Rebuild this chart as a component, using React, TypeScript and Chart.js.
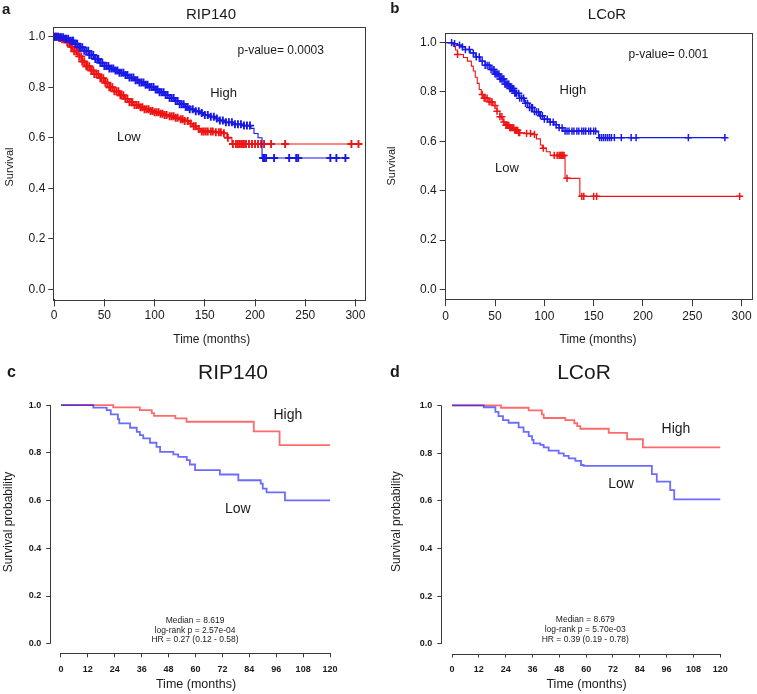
import React, { useEffect, useRef } from "react";
import { Chart, registerables } from "chart.js";

Chart.register(...registerables);

type Pt = [number, number];

// ---------- shared tick values ----------
const AB_X_TICKS = [0, 50, 100, 150, 200, 250, 300];
const SURV_TICKS = [0, 0.2, 0.4, 0.6, 0.8, 1.0];
const CD_X_TICKS = [0, 12, 24, 36, 48, 60, 72, 84, 96, 108, 120];

// ---------- panel a: RIP140 ----------
const A_HIGH_STEPS: Pt[] = [
  [0, 1.0], [5, 0.998], [10, 0.992], [15, 0.984], [20, 0.972], [25, 0.958], [30, 0.944], [35, 0.928],
  [40, 0.912], [45, 0.897], [50, 0.884], [55, 0.874], [60, 0.866], [65, 0.857], [70, 0.848], [75, 0.838],
  [80, 0.828], [85, 0.819], [90, 0.81], [95, 0.801], [100, 0.791], [105, 0.78], [110, 0.769], [115, 0.757],
  [120, 0.745], [125, 0.733], [130, 0.722], [135, 0.713], [140, 0.705], [145, 0.698], [150, 0.69], [155, 0.683],
  [160, 0.676], [165, 0.668], [170, 0.661], [178, 0.653], [188, 0.648], [196, 0.637], [199, 0.617], [203, 0.6],
  [207, 0.52], [291, 0.52],
];
const A_HIGH_CENSOR = [
  0.5, 2, 4, 6, 7, 9, 11, 12, 14, 16, 18, 19, 21, 23, 25, 26, 28, 30, 32, 34, 35, 37, 39, 41, 43, 44, 46, 48,
  50, 52, 54, 55, 57, 59, 61, 63, 65, 67, 69, 71, 73, 75, 77, 79, 81, 83, 85, 87, 89, 91, 93, 95, 97, 99, 101,
  103, 105, 107, 109, 111, 113, 115, 117, 119, 121, 123, 125, 127, 129, 131, 133, 135, 138, 141, 144, 147, 150,
  153, 156, 159, 162, 165, 168, 171, 174, 177, 180, 183, 186, 189, 192, 195, 208, 209, 211, 219, 234, 241, 243,
  275, 281, 290,
];
const A_LOW_STEPS: Pt[] = [
  [0, 1.0], [4, 0.995], [8, 0.99], [12, 0.978], [16, 0.96], [20, 0.942], [24, 0.922], [28, 0.902], [32, 0.883],
  [36, 0.866], [40, 0.852], [45, 0.836], [50, 0.818], [55, 0.8], [60, 0.784], [65, 0.768], [70, 0.754], [75, 0.741],
  [80, 0.73], [85, 0.721], [90, 0.713], [95, 0.706], [100, 0.701], [105, 0.695], [110, 0.69], [115, 0.685],
  [120, 0.679], [125, 0.673], [130, 0.666], [134, 0.656], [138, 0.645], [142, 0.635], [146, 0.625], [160, 0.622],
  [168, 0.618], [172, 0.6], [177, 0.575], [305, 0.575],
];
const A_LOW_CENSOR = [
  1, 3, 5, 6, 8, 10, 11, 13, 15, 17, 18, 20, 22, 23, 25, 27, 28, 30, 32, 33, 35, 37, 39, 40, 42, 44, 46, 47, 49,
  51, 53, 55, 56, 58, 60, 62, 64, 66, 67, 69, 71, 73, 75, 77, 78, 80, 82, 84, 86, 88, 90, 92, 94, 96, 98, 100,
  102, 104, 106, 108, 110, 112, 115, 117, 119, 121, 123, 126, 128, 130, 133, 136, 139, 141, 144, 147, 149, 151,
  153, 156, 158, 161, 164, 166, 169, 173, 178, 181, 183, 185, 187, 189, 191, 194, 197, 200, 203, 206, 209, 216,
  230, 296, 303,
];

// ---------- panel b: LCoR ----------
const B_HIGH_STEPS: Pt[] = [
  [0, 1.0], [8, 0.996], [12, 0.99], [16, 0.983], [20, 0.972], [25, 0.958], [30, 0.942], [35, 0.925], [40, 0.908],
  [45, 0.891], [50, 0.873], [55, 0.853], [60, 0.832], [65, 0.814], [70, 0.795], [75, 0.775], [80, 0.754],
  [85, 0.737], [90, 0.72], [95, 0.704], [100, 0.69], [105, 0.678], [110, 0.667], [115, 0.655], [119, 0.641],
  [153, 0.638], [155, 0.615], [283, 0.615],
];
const B_HIGH_CENSOR = [
  6, 9, 14, 17, 20, 24, 28, 31, 34, 37, 40, 42, 44, 46, 48, 49, 50, 51, 52, 53, 54, 55, 56, 57, 58, 59, 60, 61,
  62, 63, 64, 65, 66, 67, 68, 69, 70, 71, 72, 74, 75, 77, 79, 81, 83, 85, 87, 88, 90, 92, 94, 96, 98, 100, 103,
  106, 109, 112, 115, 118, 121, 123, 125, 128, 130, 133, 135, 138, 140, 142, 145, 147, 150, 152, 156, 158, 160,
  162, 164, 166, 168, 171, 178, 188, 193, 246, 283,
];
const B_LOW_STEPS: Pt[] = [
  [0, 1.0], [8, 0.985], [10, 0.97], [12, 0.952], [18, 0.94], [22, 0.925], [26, 0.905], [28, 0.885], [30, 0.86],
  [32, 0.835], [34, 0.81], [36, 0.79], [38, 0.775], [44, 0.76], [48, 0.745], [52, 0.722], [55, 0.7], [58, 0.678],
  [60, 0.665], [65, 0.655], [70, 0.645], [74, 0.635], [80, 0.632], [88, 0.628], [92, 0.61], [96, 0.585],
  [98, 0.572], [102, 0.558], [106, 0.543], [121, 0.45], [136, 0.377], [300, 0.377],
];
const B_LOW_CENSOR = [
  12, 37, 39, 40, 42, 44, 46, 47, 50, 52, 55, 57, 59, 61, 62, 63, 64, 65, 66, 67, 68, 69, 70, 71, 72, 73, 74, 75,
  82, 86, 90, 99, 110, 113, 115, 116, 117, 118, 119, 120, 123, 138, 140, 150, 153, 298,
];

// ---------- panel c: RIP140 ----------
const C_HIGH_STEPS: Pt[] = [
  [0, 1.0], [23.3, 0.99], [35.2, 0.979], [40.5, 0.966], [41.5, 0.955], [51, 0.944], [56, 0.93], [86, 0.89],
  [97.5, 0.832], [120, 0.832],
];
const C_LOW_STEPS: Pt[] = [
  [0, 1.0], [14.4, 0.989], [20.4, 0.979], [22.2, 0.961], [25.4, 0.941], [26, 0.923], [30.8, 0.905], [33.8, 0.888],
  [35.2, 0.874], [36.7, 0.86], [39.7, 0.842], [42.6, 0.825], [44.2, 0.804], [50.1, 0.793], [52.3, 0.783],
  [56.1, 0.769], [57.5, 0.751], [59.8, 0.727], [70.9, 0.709], [79.1, 0.685], [89.1, 0.671], [90, 0.65],
  [91.7, 0.634], [99.9, 0.601], [120, 0.601],
];
const C_STATS = ["Median = 8.619", "log-rank p = 2.57e-04", "HR = 0.27 (0.12 - 0.58)"];

// ---------- panel d: LCoR ----------
const D_HIGH_STEPS: Pt[] = [
  [0, 1.0], [21.9, 0.99], [34.3, 0.979], [40.2, 0.962], [41, 0.947], [50.7, 0.938], [54.7, 0.925], [56, 0.913],
  [57.4, 0.902], [70.1, 0.885], [78.3, 0.858], [85.4, 0.824], [120, 0.824],
];
const D_LOW_STEPS: Pt[] = [
  [0, 1.0], [14.2, 0.992], [19.4, 0.973], [20.8, 0.955], [22.8, 0.938], [25.3, 0.927], [29.8, 0.908], [32, 0.889],
  [34.3, 0.871], [35.8, 0.855], [36.5, 0.841], [39.5, 0.834], [41, 0.824], [43.2, 0.81], [47.7, 0.799], [50, 0.788],
  [52.2, 0.778], [55.2, 0.767], [57.7, 0.75], [58.9, 0.746], [89.4, 0.712], [91.6, 0.68], [97.6, 0.645],
  [99.4, 0.606], [120, 0.606],
];
const D_STATS = ["Median = 8.679", "log-rank p = 5.70e-03", "HR = 0.39 (0.19 - 0.78)"];

// ---------- helpers ----------
const FAMILY = '"Liberation Sans", Arial, Helvetica, sans-serif';

function survAt(steps: Pt[], t: number): number {
  let s = steps[0][1];
  for (const [ti, si] of steps) {
    if (ti <= t) s = si;
    else break;
  }
  return s;
}

type TextItem = {
  text: string;
  size: number;
  bold?: boolean;
  x?: number;
  y?: number;
  t?: number;
  s?: number;
  align?: CanvasTextAlign;
  rotate?: boolean;
  color?: string;
};

type Series = {
  steps: Pt[];
  censor?: number[];
  color: string;
  width: number;
  markRadius?: number;
  markWidth?: number;
};

type Spec = {
  w: number;
  h: number;
  area: { l: number; r: number; t: number; b: number };
  xMin: number;
  xMax: number;
  yMin: number;
  yMax: number;
  xTicks: number[];
  yTicks: number[];
  tickSize: number;
  tickBold: boolean;
  yTickLen: number;
  yTickPad: number;
  xTickLen: number;
  xTickPad: number;
  box: boolean;
  series: Series[];
  texts: TextItem[];
};

const Y_AXIS_W = 40;
const X_AXIS_H = 30;

function buildConfig(spec: Spec): any {
  const datasets: any[] = [];
  for (const sr of spec.series) {
    datasets.push({
      data: sr.steps.map(([t, s]) => ({ x: t, y: s })),
      showLine: true,
      stepped: "before",
      borderColor: sr.color,
      borderWidth: sr.width,
      pointRadius: 0,
      fill: false,
    });
    if (sr.censor) {
      datasets.push({
        data: sr.censor.map((t) => ({ x: t, y: survAt(sr.steps, t) })),
        showLine: false,
        pointStyle: "cross",
        pointRadius: sr.markRadius ?? 3.5,
        borderColor: sr.color,
        backgroundColor: sr.color,
        pointBorderWidth: sr.markWidth ?? 1.3,
      });
    }
  }

  const tickFont = { family: FAMILY, size: spec.tickSize, weight: spec.tickBold ? "bold" : "normal" };
  const zeroPad = (axis: any) => {
    axis.paddingLeft = 0;
    axis.paddingRight = 0;
    axis.paddingTop = 0;
    axis.paddingBottom = 0;
  };

  const decor = {
    id: "decor",
    afterDatasetsDraw(chart: any) {
      const { ctx, chartArea: a, scales } = chart;
      const xs = scales.x;
      const ys = scales.y;
      ctx.save();
      ctx.strokeStyle = "#3a3a3a";
      ctx.lineWidth = 1;
      if (spec.box) {
        ctx.strokeRect(Math.round(a.left) + 0.5, Math.round(a.top) + 0.5, Math.round(a.right - a.left), Math.round(a.bottom - a.top));
      } else {
        const bx = Math.round(a.bottom) + 0.5;
        ctx.beginPath();
        ctx.moveTo(xs.getPixelForValue(spec.xTicks[0]), bx);
        ctx.lineTo(xs.getPixelForValue(spec.xTicks[spec.xTicks.length - 1]), bx);
        const lx = Math.round(a.left) + 0.5;
        ctx.moveTo(lx, ys.getPixelForValue(spec.yTicks[0]));
        ctx.lineTo(lx, ys.getPixelForValue(spec.yTicks[spec.yTicks.length - 1]));
        ctx.stroke();
      }
      for (const it of spec.texts) {
        const px = it.t !== undefined ? xs.getPixelForValue(it.t) : (it.x as number);
        const py = it.s !== undefined ? ys.getPixelForValue(it.s) : (it.y as number);
        ctx.font = `${it.bold ? "bold " : ""}${it.size}px ${FAMILY}`;
        ctx.fillStyle = it.color ?? "#1a1a1a";
        ctx.textAlign = it.align ?? "center";
        ctx.textBaseline = "middle";
        if (it.rotate) {
          ctx.save();
          ctx.translate(px, py);
          ctx.rotate(-Math.PI / 2);
          ctx.fillText(it.text, 0, 0);
          ctx.restore();
        } else {
          ctx.fillText(it.text, px, py);
        }
      }
      ctx.restore();
    },
  };

  return {
    type: "scatter",
    data: { datasets },
    plugins: [decor],
    options: {
      animation: false,
      responsive: false,
      maintainAspectRatio: false,
      events: [],
      layout: {
        padding: {
          left: spec.area.l - Y_AXIS_W,
          right: spec.w - spec.area.r,
          top: spec.area.t,
          bottom: spec.h - spec.area.b - X_AXIS_H,
        },
      },
      plugins: { legend: { display: false }, tooltip: { enabled: false }, title: { display: false } },
      scales: {
        x: {
          type: "linear",
          position: "bottom",
          min: spec.xMin,
          max: spec.xMax,
          afterBuildTicks: (axis: any) => {
            axis.ticks = spec.xTicks.map((v) => ({ value: v }));
          },
          afterFit: (axis: any) => {
            axis.height = X_AXIS_H;
            zeroPad(axis);
          },
          ticks: {
            autoSkip: false,
            maxRotation: 0,
            minRotation: 0,
            padding: spec.xTickPad,
            color: "#1a1a1a",
            font: tickFont,
            callback: (v: any) => String(v),
          },
          grid: {
            drawOnChartArea: false,
            drawTicks: true,
            tickLength: spec.xTickLen,
            color: "#3a3a3a",
            tickColor: "#3a3a3a",
            lineWidth: 1,
          },
          border: { display: false },
        },
        y: {
          type: "linear",
          position: "left",
          min: spec.yMin,
          max: spec.yMax,
          afterBuildTicks: (axis: any) => {
            axis.ticks = spec.yTicks.map((v) => ({ value: v }));
          },
          afterFit: (axis: any) => {
            axis.width = Y_AXIS_W;
            zeroPad(axis);
          },
          ticks: {
            autoSkip: false,
            padding: spec.yTickPad,
            color: "#1a1a1a",
            font: tickFont,
            callback: (v: any) => Number(v).toFixed(1),
          },
          grid: {
            drawOnChartArea: false,
            drawTicks: true,
            tickLength: spec.yTickLen,
            color: "#3a3a3a",
            tickColor: "#3a3a3a",
            lineWidth: 1,
          },
          border: { display: false },
        },
      },
    },
  };
}

const RED = "rgb(238, 20, 20)";
const BLUE = "rgb(25, 25, 230)";
const RED_SOFT = "rgba(255, 0, 0, 0.58)";
const BLUE_SOFT = "rgba(0, 0, 255, 0.58)";

const SPEC_A: Spec = {
  w: 378, h: 350,
  area: { l: 53.3, r: 365.5, t: 26.6, b: 299.4 },
  xMin: -0.8, xMax: 310, yMin: -0.04, yMax: 1.04,
  xTicks: AB_X_TICKS, yTicks: SURV_TICKS,
  tickSize: 12, tickBold: false,
  yTickLen: 5, yTickPad: 3, xTickLen: 7, xTickPad: 2,
  box: true,
  series: [
    { steps: A_HIGH_STEPS, censor: A_HIGH_CENSOR, color: BLUE, width: 1.1, markRadius: 4, markWidth: 1.9 },
    { steps: A_LOW_STEPS, censor: A_LOW_CENSOR, color: RED, width: 1.1, markRadius: 4, markWidth: 1.9 },
  ],
  texts: [
    { text: "a", size: 15, bold: true, x: 2, y: 10, align: "left" },
    { text: "RIP140", size: 15, x: 211, y: 15 },
    { text: "Survival", size: 11, x: 10, y: 167, rotate: true },
    { text: "Time (months)", size: 12, x: 211.7, y: 340 },
    { text: "p-value= 0.0003", size: 12, t: 225.6, s: 0.944 },
    { text: "High", size: 13, t: 168.7, s: 0.777 },
    { text: "Low", size: 13, t: 74.4, s: 0.601 },
  ],
};

const SPEC_B: Spec = {
  w: 379, h: 350,
  area: { l: 66.7, r: 375.7, t: 32.8, b: 299.2 },
  xMin: -1, xMax: 310, yMin: -0.04, yMax: 1.04,
  xTicks: AB_X_TICKS, yTicks: SURV_TICKS,
  tickSize: 12, tickBold: false,
  yTickLen: 5, yTickPad: 3, xTickLen: 7, xTickPad: 3,
  box: true,
  series: [
    { steps: B_HIGH_STEPS, censor: B_HIGH_CENSOR, color: BLUE, width: 1.1, markRadius: 3.6, markWidth: 1.5 },
    { steps: B_LOW_STEPS, censor: B_LOW_CENSOR, color: RED, width: 1.1, markRadius: 3.6, markWidth: 1.5 },
  ],
  texts: [
    { text: "b", size: 15, bold: true, x: 12.3, y: 8.5, align: "left" },
    { text: "LCoR", size: 15, x: 229, y: 15 },
    { text: "Survival", size: 11, x: 14, y: 166, rotate: true },
    { text: "Time (months)", size: 12, x: 220, y: 340 },
    { text: "p-value= 0.001", size: 12, t: 225.7, s: 0.951 },
    { text: "High", size: 13, t: 129, s: 0.805 },
    { text: "Low", size: 13, t: 62.2, s: 0.492 },
  ],
};

const SPEC_C: Spec = {
  w: 378, h: 344,
  area: { l: 50.2, r: 340.8, t: 45.5, b: 303.3 },
  xMin: -4.8, xMax: 124.8, yMin: -0.04, yMax: 1.04,
  xTicks: CD_X_TICKS, yTicks: SURV_TICKS,
  tickSize: 9, tickBold: true,
  yTickLen: 4, yTickPad: 5, xTickLen: 4, xTickPad: 6.5,
  box: false,
  series: [
    { steps: C_LOW_STEPS, color: BLUE_SOFT, width: 1.8 },
    { steps: C_HIGH_STEPS, color: RED_SOFT, width: 1.8 },
  ],
  texts: [
    { text: "c", size: 16, bold: true, x: 7, y: 23, align: "left" },
    { text: "RIP140", size: 21, x: 233, y: 23 },
    { text: "Survival probability", size: 12, x: 8.5, y: 172, rotate: true },
    { text: "Time (months)", size: 12.5, x: 196, y: 335 },
    { text: "High", size: 14, t: 101.2, s: 0.958 },
    { text: "Low", size: 14, t: 78.9, s: 0.562 },
    { text: C_STATS[0], size: 8.5, t: 59.8, s: 0.098 },
    { text: C_STATS[1], size: 8.5, t: 59.8, s: 0.056 },
    { text: C_STATS[2], size: 8.5, t: 59.8, s: 0.017 },
  ],
};

const SPEC_D: Spec = {
  w: 379, h: 344,
  area: { l: 63.3, r: 353, t: 45.8, b: 303.5 },
  xMin: -4.8, xMax: 124.8, yMin: -0.04, yMax: 1.04,
  xTicks: CD_X_TICKS, yTicks: SURV_TICKS,
  tickSize: 9, tickBold: true,
  yTickLen: 4, yTickPad: 5, xTickLen: 4, xTickPad: 6.5,
  box: false,
  series: [
    { steps: D_LOW_STEPS, color: BLUE_SOFT, width: 1.8 },
    { steps: D_HIGH_STEPS, color: RED_SOFT, width: 1.8 },
  ],
  texts: [
    { text: "d", size: 16, bold: true, x: 12, y: 23, align: "left" },
    { text: "LCoR", size: 21, x: 206, y: 23 },
    { text: "Survival probability", size: 12, x: 19, y: 171.7, rotate: true },
    { text: "Time (months)", size: 12.5, x: 208.5, y: 335 },
    { text: "High", size: 14, t: 100.2, s: 0.899 },
    { text: "Low", size: 14, t: 75.6, s: 0.67 },
    { text: D_STATS[0], size: 8.5, t: 59.6, s: 0.1 },
    { text: D_STATS[1], size: 8.5, t: 59.6, s: 0.062 },
    { text: D_STATS[2], size: 8.5, t: 59.6, s: 0.02 },
  ],
};

function Panel({ spec, left, top }: { spec: Spec; left: number; top: number }) {
  const ref = useRef<HTMLCanvasElement>(null);
  useEffect(() => {
    if (!ref.current) return;
    const chart = new Chart(ref.current, buildConfig(spec));
    return () => chart.destroy();
  }, [spec]);
  return (
    <canvas
      ref={ref}
      width={spec.w}
      height={spec.h}
      style={{ position: "absolute", left, top, width: spec.w, height: spec.h }}
    />
  );
}

export default function App() {
  return (
    <div style={{ position: "absolute", left: 0, top: 0, width: 757, height: 694, background: "#fff", overflow: "hidden" }}>
      <Panel spec={SPEC_A} left={0} top={0} />
      <Panel spec={SPEC_B} left={378} top={0} />
      <Panel spec={SPEC_C} left={0} top={350} />
      <Panel spec={SPEC_D} left={378} top={350} />
    </div>
  );
}
